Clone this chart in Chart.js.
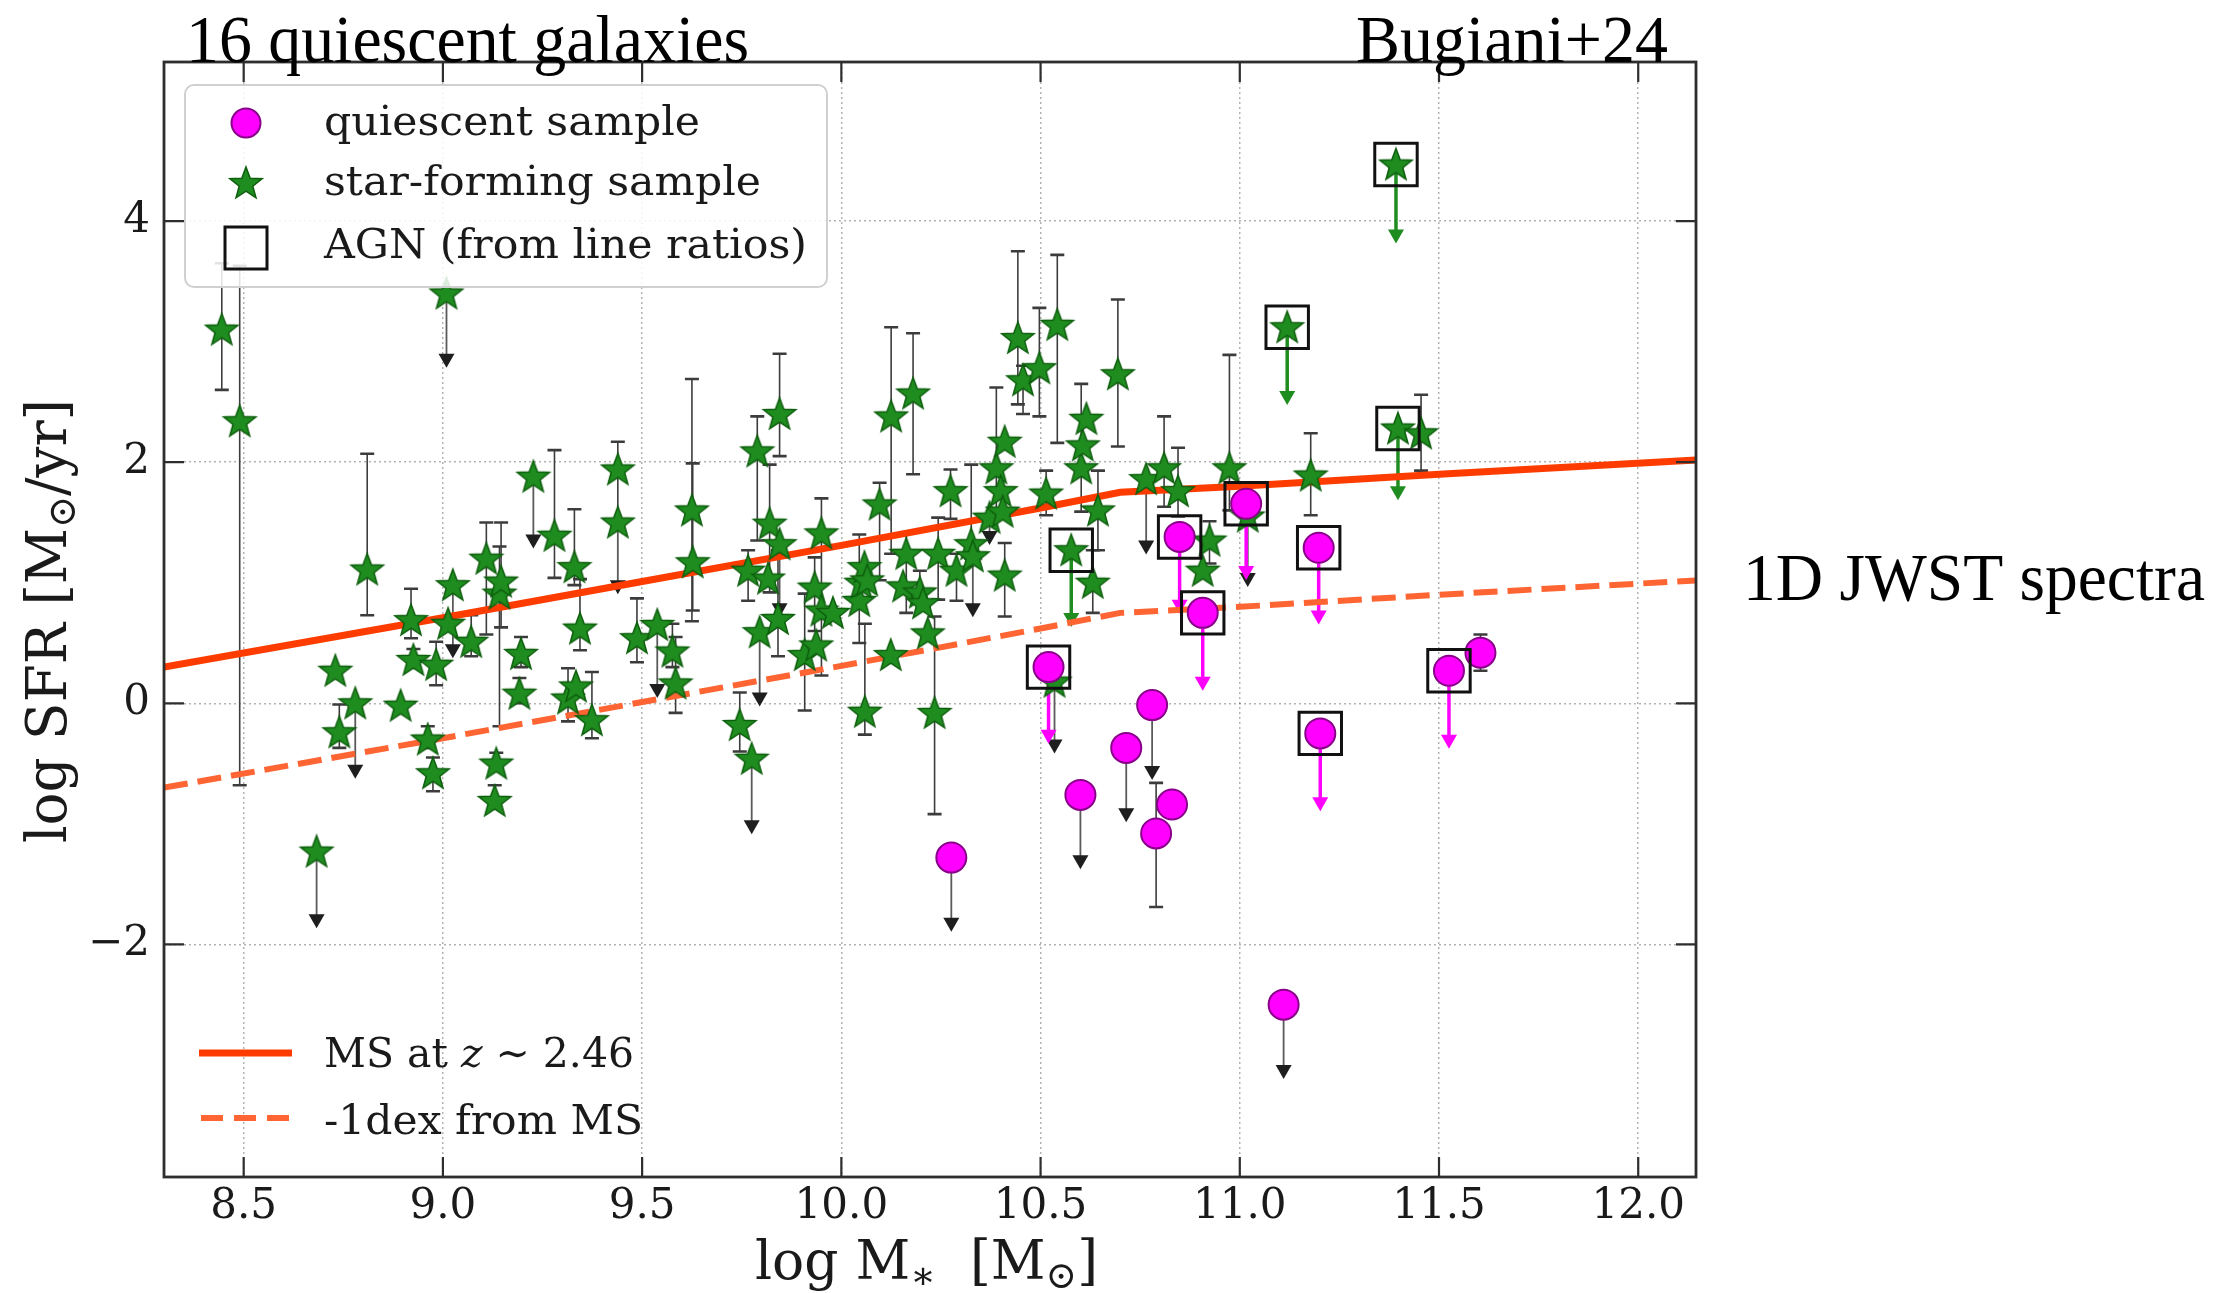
<!DOCTYPE html>
<html>
<head>
<meta charset="utf-8">
<title>log SFR vs log M*</title>
<script src="https://cdn.jsdelivr.net/npm/chart.js@4.4.1/dist/chart.umd.min.js"></script>
<style>
  html, body { margin: 0; padding: 0; background: #fff; }
  #wrap { width: 2222px; height: 1293px; }
</style>
</head>
<body>
<div id="wrap"><canvas id="sfr" width="2222" height="1293"></canvas></div>
<script>
// star-forming sample (log M*, log SFR), error bar ends, upper-limit arrow tips
const sfMass = [
  8.445, 8.49, 8.683, 8.73, 8.74, 8.78, 8.81, 8.894, 8.92, 8.926,
  8.962, 8.975, 8.983, 9.009, 9.013, 9.025, 9.071, 9.109, 9.134, 9.13,
  9.142, 9.146, 9.192, 9.196, 9.227, 9.28, 9.314, 9.334, 9.33, 9.344,
  9.374, 9.439, 9.439, 9.487, 9.538, 9.576, 9.584, 9.625, 9.627, 9.745,
  9.775, 9.766, 9.789, 9.795, 9.816, 9.82, 9.841, 9.845, 9.845, 9.908,
  9.933, 9.937, 9.95, 9.95, 9.979, 10.045, 10.05, 10.058, 10.065, 10.059,
  10.096, 10.124, 10.125, 10.155, 10.163, 10.18, 10.197, 10.205, 10.217, 10.234,
  10.243, 10.274, 10.289, 10.326, 10.33, 10.372, 10.389, 10.40, 10.41, 10.405,
  10.41, 10.443, 10.456, 10.497, 10.514, 10.535, 10.542, 10.577, 10.602, 10.606,
  10.615, 10.631, 10.644, 10.694, 10.765, 10.81, 10.845, 10.907, 10.924, 10.974,
  11.02, 11.119, 11.178, 11.392, 11.397, 11.455
];
const sfSfr = [
  3.10, 2.34, -1.23, 0.27, -0.24, 0.00, 1.11, -0.02, 0.69, 0.36,
  -0.30, -0.58, 0.32, 3.40, 0.66, 0.98, 0.51, 1.20, -0.50, -0.81,
  0.91, 1.01, 0.08, 0.41, 1.88, 1.39, 0.04, 0.14, 1.13, 0.62,
  -0.14, 1.94, 1.50, 0.54, 0.65, 0.43, 0.165, 1.60, 1.17, -0.18,
  -0.46, 1.10, 2.09, 0.59, 1.035, 1.49, 0.70, 2.40, 1.32, 0.40,
  0.96, 0.48, 1.41, 0.77, 0.75, 0.85, 1.00, 1.13, 1.02, -0.07,
  1.65, 0.40, 2.38, 0.97, 1.24, 2.57, 0.92, 0.83, 0.58, -0.08,
  1.24, 1.76, 1.10, 1.32, 1.22, 1.54, 1.95, 1.76, 2.17, 1.59,
  1.06, 3.03, 2.68, 2.78, 1.74, 0.18, 3.14, 1.27, 1.95, 2.14,
  2.36, 1.00, 1.60, 2.73, 1.86, 1.95, 1.76, 1.10, 1.35, 1.95,
  1.55, 3.12, 1.89, 4.47, 2.28, 2.24
];
const sfErrLo = [
  2.60, -0.68, null, null, -0.37, null, 0.73, null, 0.54, 0.30,
  -0.37, -0.73, 0.15, null, null, null, 0.39, 0.57, -0.56, -0.81,
  -0.19, 0.63, 0.00, 0.30, null, 1.04, -0.15, null, 0.98, 0.44,
  -0.29, 1.50, null, 0.34, null, 0.30, -0.08, 0.68, 0.77, -0.40,
  null, 0.85, 1.35, null, null, 0.92, 0.39, 2.05, null, -0.06,
  0.60, null, 0.23, null, null, 0.50, null, null, null, -0.26,
  1.02, null, 1.24, null, 0.75, 1.90, 0.83, null, null, -0.92,
  0.86, 1.53, 0.85, 1.20, null, null, 1.59, null, null, null,
  0.72, 2.48, 2.40, 2.38, 1.56, null, 2.16, null, 1.59, null,
  null, 0.75, 1.27, 2.13, null, 1.63, 1.55, null, 1.16, 1.60,
  null, null, 1.56, null, null, 1.93
];
const sfErrHi = [
  3.65, 3.63, null, null, -0.01, null, 2.07, null, 0.95, 0.45,
  -0.19, -0.45, 0.51, null, null, null, 0.73, 1.50, -0.41, -0.68,
  1.30, 1.50, 0.21, 0.55, null, 2.10, 0.29, null, 1.61, 1.03,
  0.26, 2.17, null, 0.87, null, 0.66, 0.55, 2.69, 1.99, 0.09,
  null, 1.27, 2.38, null, null, 1.98, 1.27, 2.90, null, 0.91,
  1.21, null, 1.70, null, null, 1.40, null, null, null, 0.66,
  1.83, null, 3.12, null, 1.41, 3.07, 1.10, null, null, 0.72,
  1.54, 1.94, 1.24, 1.98, null, null, 2.62, null, null, null,
  1.33, 3.75, 2.80, 3.28, 1.93, null, 3.72, null, 2.65, null,
  null, 1.27, 1.93, 3.35, null, 2.38, 2.12, null, 1.51, 2.89,
  null, null, 2.24, null, null, 2.56
];
const sfLimit = [
  null, null, -1.80, null, null, -0.56, null, null, null, null,
  null, null, null, 2.85, null, 0.44, null, null, null, null,
  null, null, null, null, 1.35, null, null, null, null, null,
  null, null, 0.97, null, 0.11, null, null, null, null, null,
  -1.02, null, null, 0.04, null, null, null, null, 0.78, null,
  null, null, null, null, null, null, null, null, null, null,
  null, null, null, null, null, null, null, null, null, null,
  null, null, null, null, 0.78, 1.38, null, null, null, null,
  null, null, null, null, null, -0.35, null, 0.70, null, null,
  null, null, null, null, 1.30, null, null, null, null, null,
  1.03, 2.54, null, 3.88, 1.75, null
];
const sfAgnIndex = [87, 101, 103, 104];

// quiescent sample
const qMass = [10.276, 10.52, 10.60, 10.715, 10.78, 10.79, 10.83, 10.849, 10.907, 11.016, 11.11, 11.198, 11.202, 11.525, 11.604];
const qSfr = [-1.28, 0.30, -0.76, -0.37, -0.015, -1.08, -0.84, 1.38, 0.75, 1.655, -2.50, 1.29, -0.25, 0.27, 0.42];
const qErrLo = [null, null, null, null, null, -1.69, null, null, null, null, null, null, null, null, 0.27];
const qErrHi = [null, null, null, null, null, -0.66, null, null, null, null, null, null, null, null, 0.57];
const qLimit = [-1.83, -0.27, -1.31, -0.92, -0.57, null, null, 0.81, 0.17, 1.09, -3.05, 0.72, -0.83, -0.31, null];
const qAgnIndex = [1, 7, 8, 9, 11, 12, 13];

// main sequence at z~2.46 and 1 dex below it
const msMass = [8.3, 9.0, 9.5, 10.0, 10.5, 10.7, 11.0, 11.5, 12.15];
const msSfr = [0.30, 0.71, 1.01, 1.31, 1.62, 1.75, 1.80, 1.90, 2.02];
const msLowSfr = [-0.70, -0.29, 0.01, 0.31, 0.62, 0.75, 0.80, 0.90, 1.02];

const xTicks = [8.5, 9.0, 9.5, 10.0, 10.5, 11.0, 11.5, 12.0];
const xTickLabels = ['8.5', '9.0', '9.5', '10.0', '10.5', '11.0', '11.5', '12.0'];
const yTicks = [-2, 0, 2, 4];
const yTickLabels = ['\u22122', '0', '2', '4'];

const GREEN = '#1f8c1f';
const GREEN_EDGE = '#0d5e0d';
const MAGENTA = '#ff00ff';
const MAGENTA_EDGE = '#8a008a';
const MS_RED = '#ff3c00';
const MS_DASH = '#ff6433';
const SERIF = 'DejaVu Serif';
const TIMES = 'Liberation Serif';

function makeStar(r) {
  const c = document.createElement('canvas');
  const s = Math.ceil(r * 2 + 4);
  c.width = s; c.height = s;
  const g = c.getContext('2d');
  g.beginPath();
  for (let k = 0; k < 10; k++) {
    const rad = k % 2 ? r * 0.42 : r;
    const a = -Math.PI / 2 + k * Math.PI / 5;
    const px = s / 2 + rad * Math.cos(a), py = s / 2 + 1 + rad * Math.sin(a);
    if (k) g.lineTo(px, py); else g.moveTo(px, py);
  }
  g.closePath();
  g.fillStyle = GREEN;
  g.fill();
  g.lineWidth = 1.5;
  g.strokeStyle = GREEN_EDGE;
  g.stroke();
  return c;
}
const starImg = makeStar(17);

function pts(xs, ys) {
  return xs.map((m, i) => ({ x: m, y: ys[i] }));
}
const agnPts = sfAgnIndex.map(i => ({ x: sfMass[i], y: sfSfr[i] }))
  .concat(qAgnIndex.map(i => ({ x: qMass[i], y: qSfr[i] })));

// error bars and upper-limit arrows, drawn behind the markers
function drawErrors(ctx, xs, ys, mass, sfr, lo, hi, lim, agnIdx, color) {
  for (let i = 0; i < mass.length; i++) {
    const px = xs.getPixelForValue(mass[i]);
    if (lo[i] !== null) {
      const y1 = ys.getPixelForValue(lo[i]), y2 = ys.getPixelForValue(hi[i]);
      ctx.strokeStyle = '#3c3c3c';
      ctx.lineWidth = 1.6;
      ctx.beginPath(); ctx.moveTo(px, y1); ctx.lineTo(px, y2); ctx.stroke();
      ctx.lineWidth = 2.6;
      ctx.beginPath();
      ctx.moveTo(px - 7, y1); ctx.lineTo(px + 7, y1);
      ctx.moveTo(px - 7, y2); ctx.lineTo(px + 7, y2);
      ctx.stroke();
    }
    if (lim[i] !== null) {
      const agn = agnIdx.indexOf(i) >= 0;
      const y0 = ys.getPixelForValue(sfr[i]), yt = ys.getPixelForValue(lim[i]);
      const head = agn ? color : '#1e1e1e';
      ctx.strokeStyle = agn ? color : '#5a5a5a';
      ctx.lineWidth = agn ? 3.5 : 1.8;
      ctx.beginPath(); ctx.moveTo(px, y0); ctx.lineTo(px, yt - 4); ctx.stroke();
      ctx.fillStyle = head;
      ctx.beginPath();
      ctx.moveTo(px - 8, yt - 6);
      ctx.lineTo(px + 8, yt - 6);
      ctx.lineTo(px, yt + 8);
      ctx.closePath();
      ctx.fill();
    }
  }
}

// text with optional subscript / italic pieces, squeezed to a target width
function drawRich(ctx, parts, x, y, size, family, width) {
  const fontFor = k => (k === 'it' ? 'italic ' : '') + Math.round(k === 'sub' ? size * 0.7 : size) + 'px "' + family + '"';
  let total = 0;
  parts.forEach(p => { ctx.font = fontFor(p[1]); total += ctx.measureText(p[0]).width; });
  const sx = width ? width / total : 1;
  ctx.save();
  ctx.translate(x, y);
  ctx.scale(sx, 1);
  ctx.textAlign = 'left';
  ctx.textBaseline = 'alphabetic';
  let cx = 0;
  parts.forEach(p => {
    ctx.font = fontFor(p[1]);
    ctx.fillText(p[0], cx, p[1] === 'sub' ? size * 0.16 : 0);
    cx += ctx.measureText(p[0]).width;
  });
  ctx.restore();
}

const errorBars = {
  id: 'errorBars',
  beforeDatasetsDraw(chart) {
    const { ctx, chartArea: a, scales: { x, y } } = chart;
    ctx.save();
    ctx.beginPath();
    ctx.rect(a.left, a.top, a.right - a.left, a.bottom - a.top);
    ctx.clip();
    drawErrors(ctx, x, y, sfMass, sfSfr, sfErrLo, sfErrHi, sfLimit, sfAgnIndex, GREEN);
    drawErrors(ctx, x, y, qMass, qSfr, qErrLo, qErrHi, qLimit, qAgnIndex, MAGENTA);
    ctx.restore();
  }
};

const decorations = {
  id: 'decorations',
  afterDraw(chart) {
    const { ctx, chartArea: a, scales: { x, y } } = chart;
    ctx.save();
    // frame and inward ticks on all four sides
    ctx.strokeStyle = '#2e2e2e';
    ctx.lineWidth = 2.8;
    ctx.strokeRect(a.left, a.top, a.right - a.left, a.bottom - a.top);
    ctx.lineWidth = 2.2;
    ctx.beginPath();
    x.ticks.forEach(t => {
      const px = x.getPixelForValue(t.value);
      ctx.moveTo(px, a.bottom); ctx.lineTo(px, a.bottom - 20);
      ctx.moveTo(px, a.top); ctx.lineTo(px, a.top + 20);
    });
    y.ticks.forEach(t => {
      const py = y.getPixelForValue(t.value);
      ctx.moveTo(a.left, py); ctx.lineTo(a.left + 20, py);
      ctx.moveTo(a.right, py); ctx.lineTo(a.right - 20, py);
    });
    ctx.stroke();

    // upper-left legend
    ctx.beginPath();
    ctx.roundRect(185, 85, 642, 202, 9);
    ctx.fillStyle = 'rgba(255,255,255,0.85)';
    ctx.fill();
    ctx.strokeStyle = '#d0d0d0';
    ctx.lineWidth = 2;
    ctx.stroke();
    ctx.beginPath();
    ctx.arc(246, 123, 14.5, 0, Math.PI * 2);
    ctx.fillStyle = MAGENTA;
    ctx.fill();
    ctx.strokeStyle = MAGENTA_EDGE;
    ctx.lineWidth = 2;
    ctx.stroke();
    ctx.drawImage(starImg, 246 - starImg.width / 2, 183 - starImg.height / 2);
    ctx.strokeStyle = '#111';
    ctx.lineWidth = 3;
    ctx.strokeRect(225, 227, 42, 42);
    ctx.fillStyle = '#1a1a1a';
    drawRich(ctx, [['quiescent sample', '']], 324, 135, 41, SERIF, 376);
    drawRich(ctx, [['star-forming sample', '']], 324, 195, 41, SERIF, 437);
    drawRich(ctx, [['AGN (from line ratios)', '']], 324, 258, 41, SERIF, 483);

    // lower-left legend
    ctx.strokeStyle = MS_RED;
    ctx.lineWidth = 7;
    ctx.beginPath(); ctx.moveTo(199, 1053); ctx.lineTo(292, 1053); ctx.stroke();
    ctx.strokeStyle = MS_DASH;
    ctx.lineWidth = 6;
    ctx.setLineDash([22, 11]);
    ctx.beginPath(); ctx.moveTo(201, 1118); ctx.lineTo(292, 1118); ctx.stroke();
    ctx.setLineDash([]);
    ctx.fillStyle = '#1a1a1a';
    drawRich(ctx, [['MS at ', ''], ['z', 'it'], [' \u223C 2.46', '']], 324, 1067, 41, SERIF, 310);
    drawRich(ctx, [['-1dex from MS', '']], 324, 1134, 41, SERIF, 319);

    // axis titles
    drawRich(ctx, [['log M', ''], ['\u2217', 'sub'], ['  [M', ''], ['\u2299', 'sub'], [']', '']], 755, 1279, 54, SERIF, 343);
    ctx.save();
    ctx.translate(66, 843);
    ctx.rotate(-Math.PI / 2);
    drawRich(ctx, [['log SFR [M', ''], ['\u2299', 'sub'], ['/yr]', '']], 0, 0, 56, SERIF, 444);
    ctx.restore();

    // annotations around the panel
    ctx.fillStyle = '#000';
    drawRich(ctx, [['16 quiescent galaxies', '']], 186, 62, 68, TIMES, 563);
    drawRich(ctx, [['Bugiani+24', '']], 1356, 62, 68, TIMES, 312);
    drawRich(ctx, [['1D JWST spectra', '']], 1743, 600, 67, TIMES, 462);
    ctx.restore();
  }
};

new Chart(document.getElementById('sfr'), {
  type: 'scatter',
  data: {
    datasets: [
      {
        label: 'AGN (from line ratios)',
        data: agnPts,
        pointStyle: 'rect',
        radius: 30,
        borderWidth: 3,
        borderColor: '#111',
        backgroundColor: 'rgba(0,0,0,0)',
        order: 0
      },
      {
        label: 'quiescent sample',
        data: pts(qMass, qSfr),
        pointStyle: 'circle',
        radius: 15,
        borderWidth: 2,
        borderColor: MAGENTA_EDGE,
        backgroundColor: MAGENTA,
        order: 1
      },
      {
        label: 'star-forming sample',
        data: pts(sfMass, sfSfr),
        pointStyle: starImg,
        radius: 16,
        order: 2
      },
      {
        label: 'MS at z~2.46',
        data: pts(msMass, msSfr),
        showLine: true,
        pointRadius: 0,
        borderColor: MS_RED,
        borderWidth: 7,
        tension: 0,
        order: 3
      },
      {
        label: '-1dex from MS',
        data: pts(msMass, msLowSfr),
        showLine: true,
        pointRadius: 0,
        borderColor: MS_DASH,
        borderWidth: 6,
        borderDash: [24, 10],
        tension: 0,
        order: 4
      }
    ]
  },
  options: {
    responsive: false,
    animation: false,
    events: [],
    layout: { padding: { left: 0, top: 62, right: 526, bottom: 0 } },
    plugins: { legend: { display: false }, tooltip: { enabled: false } },
    scales: {
      x: {
        type: 'linear',
        min: 8.3,
        max: 12.145,
        afterBuildTicks: s => { s.ticks = xTicks.map(v => ({ value: v })); },
        afterFit: s => { s.height = 116; },
        ticks: {
          callback: (v, i) => xTickLabels[i],
          font: { family: SERIF, size: 42 },
          color: '#1a1a1a',
          padding: 5,
          maxRotation: 0,
          autoSkip: false
        },
        grid: { color: 'rgba(0,0,0,0.3)', lineWidth: 1.5, drawTicks: false },
        border: { display: false, dash: [2, 3] }
      },
      y: {
        type: 'linear',
        min: -3.93,
        max: 5.32,
        afterBuildTicks: s => { s.ticks = yTicks.map(v => ({ value: v })); },
        afterFit: s => { s.width = 164; },
        ticks: {
          callback: (v, i) => yTickLabels[i],
          font: { family: SERIF, size: 42 },
          color: '#1a1a1a',
          padding: 14
        },
        grid: { color: 'rgba(0,0,0,0.3)', lineWidth: 1.5, drawTicks: false },
        border: { display: false, dash: [2, 3] }
      }
    }
  },
  plugins: [errorBars, decorations]
});
</script>
</body>
</html>
